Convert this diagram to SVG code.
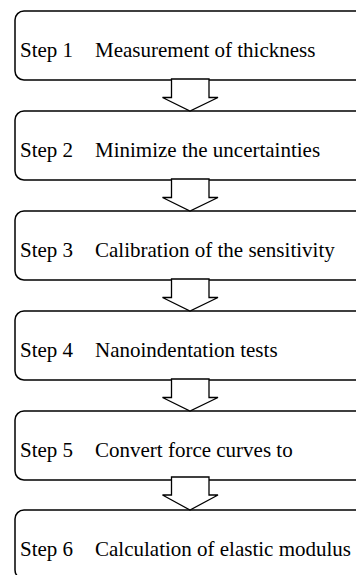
<svg xmlns="http://www.w3.org/2000/svg" width="356" height="575" viewBox="0 0 356 575">
<style>
.box{fill:#fff;stroke:#000;stroke-width:1.5}
.arr{fill:#fff;stroke:#000;stroke-width:1.3;stroke-linejoin:miter}
.t{font-family:'Liberation Serif','Times New Roman',Tinos,'DejaVu Serif',serif;font-size:21px;fill:#000}
</style>
<rect width="356" height="575" fill="#fff"/>
<g class="t" font-family="Liberation Serif, Times New Roman, serif">
<g id="step1"><rect class="box" x="15" y="11" width="360" height="69" rx="9"/><text x="20" y="57">Step 1</text><text x="95" y="57">Measurement of thickness</text></g>
<g id="step2"><rect class="box" x="15" y="111" width="360" height="69" rx="9"/><text x="20" y="157">Step 2</text><text x="95" y="157">Minimize the uncertainties</text></g>
<g id="step3"><rect class="box" x="15" y="211" width="360" height="69" rx="9"/><text x="20" y="257">Step 3</text><text x="95" y="257">Calibration of the sensitivity</text></g>
<g id="step4"><rect class="box" x="15" y="311" width="360" height="69" rx="9"/><text x="20" y="357">Step 4</text><text x="95" y="357">Nanoindentation tests</text></g>
<g id="step5"><rect class="box" x="15" y="411" width="360" height="69" rx="9"/><text x="20" y="457">Step 5</text><text x="95" y="457">Convert force curves to</text></g>
<g id="step6"><rect class="box" x="15" y="510" width="360" height="69" rx="9"/><text x="20" y="556">Step 6</text><text x="95" y="556">Calculation of elastic modulus</text></g>
</g>
<g id="connectors">
<polygon class="arr" points="171.5,79 209,79 209,97.5 218,97.5 190,111 162.5,97.5 171.5,97.5"/>
<polygon class="arr" points="171.5,179 209,179 209,197.5 218,197.5 190,211 162.5,197.5 171.5,197.5"/>
<polygon class="arr" points="171.5,279 209,279 209,297.5 218,297.5 190,311 162.5,297.5 171.5,297.5"/>
<polygon class="arr" points="171.5,379 209,379 209,397.5 218,397.5 190,411 162.5,397.5 171.5,397.5"/>
<polygon class="arr" points="171.5,477 209,477 209,495 218,495 190,510 162.5,495 171.5,495"/>
</g>
</svg>
